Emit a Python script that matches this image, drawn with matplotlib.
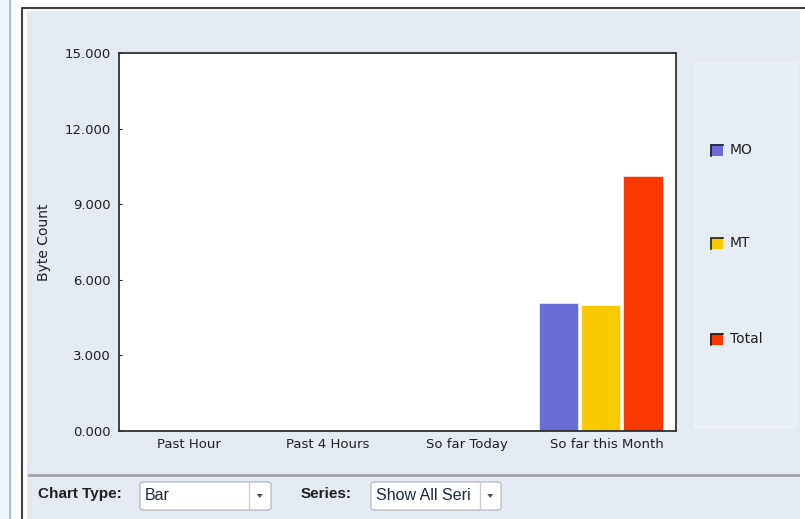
"""Byte count bar chart, recreated with matplotlib."""

import matplotlib
matplotlib.use('Agg')
import matplotlib.pyplot as plt
import numpy as np
from matplotlib import patches, ticker

W, H = 805, 519

categories = ['Past Hour', 'Past 4 Hours', 'So far Today', 'So far this Month']
series_names = ['MO', 'MT', 'Total']
mo_values = [0, 0, 0, 5.08]
mt_values = [0, 0, 0, 5.0]
total_values = [0, 0, 0, 10.1]
y_ticks = [0, 3, 6, 9, 12, 15]

COLORS = ['#6b6bd6', '#f8c800', '#f83800']
BG = '#e4eaf2'
BAR_WIDTH = 0.285
BAR_OFFSETS = [-0.344, -0.042, 0.263]


def fx(x):
    return x / W


def fy(y):
    return 1 - y / H


def rect(fig, x0, y0, x1, y1, **kw):
    """Rectangle given in pixel coords (top-left origin)."""
    p = patches.Rectangle((fx(x0), fy(y1)), fx(x1 - x0), (y1 - y0) / H,
                          transform=fig.transFigure, **kw)
    fig.add_artist(p)
    return p


def line(fig, xs, ys, **kw):
    fig.add_artist(plt.Line2D([fx(x) for x in xs], [fy(y) for y in ys],
                              transform=fig.transFigure, **kw))


def combo(fig, x0, x1, sep, text):
    """Draw a simple combo box."""
    box = patches.FancyBboxPatch(
        (fx(x0), fy(510)), fx(x1 - x0), 28 / H,
        boxstyle='round,pad=0,rounding_size=0.005',
        transform=fig.transFigure, facecolor='white',
        edgecolor='#b4b8bc', linewidth=0.9)
    fig.add_artist(box)
    line(fig, [sep, sep], [483, 509], color='#c8ccd0', linewidth=0.9)
    ax_c = (sep + x1) / 2
    fig.add_artist(patches.Polygon(
        [(fx(ax_c - 3), fy(494)), (fx(ax_c + 3), fy(494)), (fx(ax_c), fy(498))],
        closed=True, transform=fig.transFigure, facecolor='#505050',
        edgecolor='none'))
    fig.text(fx(x0 + 5), fy(496), text, ha='left', va='center',
             fontsize=11.5, color='#1a2a3a', family='Liberation Sans',
             stretch='condensed')


def draw_frame(fig):
    rect(fig, 0, 0, W, H, facecolor='white', edgecolor='none', zorder=-10)
    rect(fig, 0, 0, 10, H, facecolor='#eef4fc', edgecolor='none', zorder=-9)
    rect(fig, 9, 0, 11, H, facecolor='#a8bcd8', edgecolor='none', zorder=-9)
    rect(fig, 11, 0, 16, H, facecolor='#f4f8fc', edgecolor='none', zorder=-9)
    rect(fig, 27, 11, 800, H, facecolor=BG, edgecolor='none', zorder=-8)
    line(fig, [21.5, 21.5, W], [H, 7.5, 7.5], color='#404040', linewidth=1.5)
    line(fig, [29, 798], [474.5, 474.5], color='#a0a4a8', linewidth=2)


def draw_legend(fig):
    rect(fig, 695, 63, 796, 427, facecolor='#e6ecf3', edgecolor='#eef2f7',
         linewidth=1.2, zorder=-7)
    for name, color, yc in zip(series_names, COLORS, [150, 243, 339]):
        rect(fig, 710, yc - 6, 723, yc + 6, facecolor=color, edgecolor='none')
        line(fig, [710.5, 710.5, 723], [yc + 6, yc - 5.5, yc - 5.5],
             color='#202020', linewidth=1.2)
        fig.text(fx(730), fy(yc), name, ha='left', va='center', fontsize=10,
                 color='#202020')


def draw_chart(fig):
    ax = fig.add_axes([fx(119), fy(431), fx(676 - 119), (431 - 53) / H])
    ax.set_facecolor('white')
    x = np.arange(len(categories))
    for vals, color, off in zip([mo_values, mt_values, total_values],
                                COLORS, BAR_OFFSETS):
        ax.bar(x + off, vals, BAR_WIDTH, color=color,
               edgecolor='#ffffff', linewidth=0.4, zorder=2)
    ax.set_xlim(-0.5, len(categories) - 0.5)
    ax.set_ylim(0, 15)
    ax.set_yticks(y_ticks)
    ax.yaxis.set_major_formatter(ticker.FormatStrFormatter('%.3f'))
    ax.set_xticks(x)
    ax.set_xticklabels(categories)
    ax.tick_params(axis='x', length=0, pad=5, labelsize=9.5, colors='#202020')
    ax.tick_params(axis='y', direction='in', length=2, width=0.8, pad=6,
                   labelsize=9.5, colors='#202020')
    for s in ax.spines.values():
        s.set_color('#303030')
        s.set_linewidth(1.3)
    ax.set_ylabel('Byte Count', fontsize=10, color='#202020', labelpad=10)


def main():
    fig = plt.figure(figsize=(W / 100, H / 100), dpi=100)
    draw_frame(fig)
    draw_chart(fig)
    draw_legend(fig)

    fig.text(fx(38), fy(494), 'Chart Type:', ha='left', va='center',
             fontsize=11, fontweight='bold', family='Liberation Sans',
             color='#202020')
    fig.text(fx(301), fy(494), 'Series:', ha='left', va='center',
             fontsize=11, fontweight='bold', family='Liberation Sans',
             color='#202020')
    combo(fig, 140, 271, 248.5, 'Bar')
    combo(fig, 371, 501, 479.5, 'Show All Seri')

    fig.savefig('out.png', dpi=100)
    plt.close()


if __name__ == '__main__':
    main()
